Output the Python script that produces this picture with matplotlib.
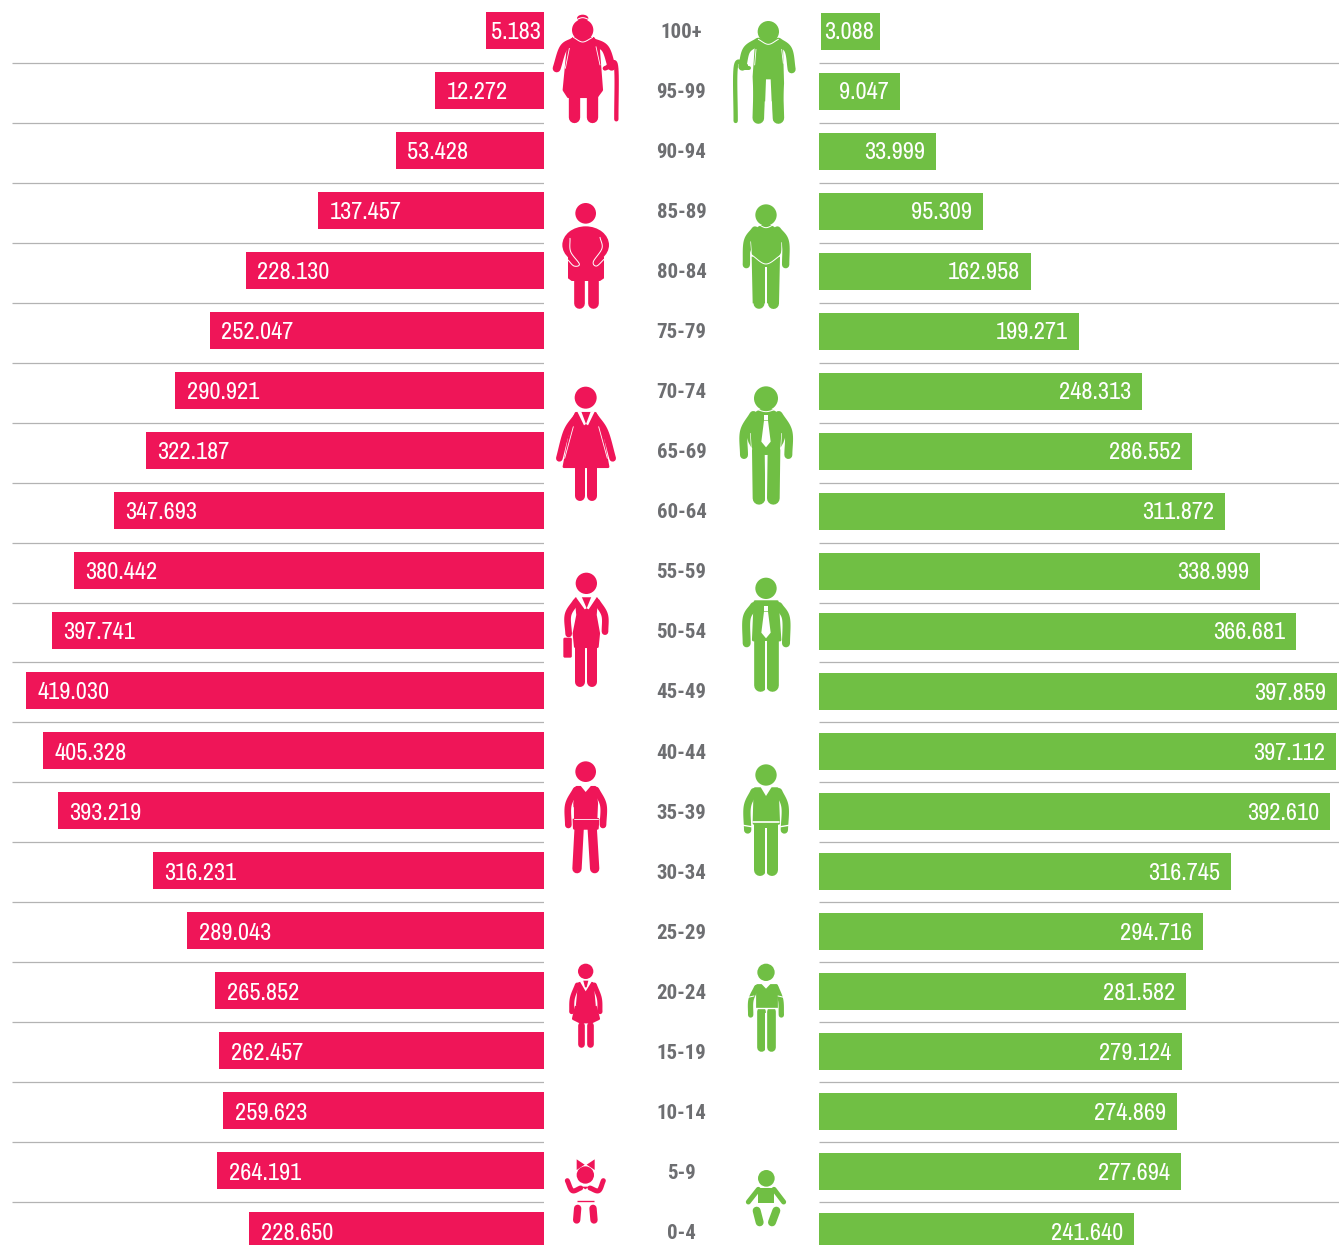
import numpy as np
import matplotlib
matplotlib.use("Agg")
import matplotlib.pyplot as plt
from matplotlib.patches import Circle, Polygon, Ellipse, FancyBboxPatch

W, H = 1339, 1245
PINK, GREEN, GREY, RULE = "#EF1558", "#70BF44", "#6D6E71", "#B3B3B3"
VALUE_FONT = ["Archivo Narrow", "Liberation Sans"]
AGE_FONT = ["Roboto Condensed", "Liberation Sans"]

ages = ["100+", "95-99", "90-94", "85-89", "80-84", "75-79", "70-74", "65-69", "60-64", "55-59", "50-54",
        "45-49", "40-44", "35-39", "30-34", "25-29", "20-24", "15-19", "10-14", "5-9", "0-4"]
female_labels = ["5.183", "12.272", "53.428", "137.457", "228.130", "252.047", "290.921", "322.187", "347.693",
                 "380.442", "397.741", "419.030", "405.328", "393.219", "316.231", "289.043", "265.852",
                 "262.457", "259.623", "264.191", "228.650"]
male_labels = ["3.088", "9.047", "33.999", "95.309", "162.958", "199.271", "248.313", "286.552", "311.872",
               "338.999", "366.681", "397.859", "397.112", "392.610", "316.745", "294.716", "281.582",
               "279.124", "274.869", "277.694", "241.640"]
# The drawn bars of the original are not proportional to their labels, so the lengths are read separately.
female_lengths = [58, 109, 148, 226, 298, 334, 369, 398, 430, 470, 492, 518, 501, 486, 391, 357, 329, 325, 321, 327, 295]
male_lengths = [61, 81, 117, 164, 212, 260, 323, 373, 406, 441, 477, 518, 517, 511, 412, 384, 367, 363, 358, 362, 315]
male_starts = [2] + [0] * 20

fig = plt.figure(figsize=(W / 100, H / 100), dpi=100, facecolor="white")


def px_axes(x0, x1, y_shift=0.0):
    a = fig.add_axes([x0 / W, 0, (x1 - x0) / W, 1])
    a.set_ylim((H - 30.5 - y_shift) / 60, (0 - 30.5 - y_shift) / 60)
    a.axis("off")
    return a


rows = np.arange(len(ages))
rule_rows = rows[:-1] + 0.55 - 0.00175 * rows[:-1]

axL = px_axes(0, 544)
axL.set_xlim(544, 0)
axL.barh(rows, female_lengths, height=37 / 60, color=PINK, linewidth=0)
axL.hlines(rule_rows, 0, 532.5, color=RULE, lw=0.9)

axR = px_axes(819, W, 1.0)
axR.set_xlim(0, W - 819)
axR.barh(rows, np.array(male_lengths) - np.array(male_starts), left=male_starts, height=37 / 60, color=GREEN, linewidth=0)
axR.hlines(rule_rows - 1 / 60, 0, 520, color=RULE, lw=0.9)

for i, (lab, n) in enumerate(zip(female_labels, female_lengths)):
    pad = 5 if i == 0 else 11.5
    axL.text(n - pad, i + 0.03 + 0.001 * i, lab, color="white", family=VALUE_FONT, fontsize=17.5, ha="left", va="center")
for i, (lab, n) in enumerate(zip(male_labels, male_lengths)):
    pad = 6 if i == 0 else 11
    axR.text(n - pad, i + 0.015 + 0.001 * i, lab, color="white", family=VALUE_FONT, fontsize=17.5, ha="right", va="center")

axC = px_axes(544, 819)
axC.set_xlim(544, 819)
for i, a in enumerate(ages):
    axC.text(681.5, i + 0.03 + 0.001 * i, a, color=GREY, family=AGE_FONT, fontsize=15, fontweight="bold", ha="center", va="center")

# Icon layer, pixel coordinates
ov = fig.add_axes([0, 0, 1, 1], zorder=5)
ov.set_xlim(0, W)
ov.set_ylim(H, 0)
ov.axis("off")
ov.patch.set_alpha(0)


class Icon:
    def __init__(self, ox, oy, color):
        self.ox, self.oy, self.c = ox, oy, color

    def p(self, pts):
        a = np.array(pts, float)
        return np.c_[self.ox + a[:, 0] / 3, self.oy + a[:, 1] / 3]

    def smooth(self, pts):
        q = self.p(pts)
        if len(q) < 3:
            return q
        e = np.vstack([2 * q[0] - q[1], q, 2 * q[-1] - q[-2]])
        out = []
        for i in range(1, len(e) - 2):
            for t in np.linspace(0, 1, 12, endpoint=False):
                out.append(0.5 * (2 * e[i] + (e[i + 1] - e[i - 1]) * t
                                  + (2 * e[i - 1] - 5 * e[i] + 4 * e[i + 1] - e[i + 2]) * t ** 2
                                  + (3 * e[i] - e[i - 1] - 3 * e[i + 1] + e[i + 2]) * t ** 3))
        out.append(q[-1])
        return np.array(out)

    def limb(self, pts, w, color=None, cap="round", z=3):
        q = self.smooth(pts)
        ov.plot(q[:, 0], q[:, 1], color=color or self.c, lw=w / 3 * 0.72, solid_capstyle=cap,
                solid_joinstyle="round", zorder=z)

    def line(self, pts, w=3.0, z=5):
        self.limb(pts, w, color="white", cap="round", z=z)

    def head(self, x, y, r):
        c = self.p([(x, y)])[0]
        ov.add_patch(Circle(c, r / 3, fc=self.c, ec="none", zorder=4))

    def poly(self, pts, color=None, z=3):
        ov.add_patch(Polygon(self.p(pts), closed=True, fc=color or self.c, ec="none", zorder=z))

    def blob(self, pts, color=None, z=3):
        q = self.p(pts)
        ov.add_patch(Polygon(q, closed=True, fc=color or self.c, ec=color or self.c, lw=2,
                             joinstyle="round", zorder=z))

    def ell(self, x, y, w, h):
        c = self.p([(x, y)])[0]
        ov.add_patch(Ellipse(c, w / 3, h / 3, fc=self.c, ec="none", zorder=3))

    def tie(self, cx, top):
        self.poly([(cx - 7, top), (cx + 7, top), (cx + 7, top + 15), (cx - 7, top + 15)], "white", 6)
        self.poly([(cx - 6, top + 17), (cx + 6, top + 17), (cx + 14, top + 80), (cx, top + 97), (cx - 14, top + 80)], "white", 6)


# grandmother
g = Icon(480, 0, PINK)
g.ell(308, 55, 34, 22)
g.line([(283, 62), (308, 53), (334, 62)], 3)
g.head(308, 90, 32)
g.line([(280, 112), (308, 126), (338, 112)], 3)
g.blob([(280, 115), (340, 115), (355, 140), (365, 270), (350, 290), (265, 290), (252, 270), (265, 135)])
g.limb([(280, 125), (250, 145), (230, 205)], 24)
g.limb([(335, 125), (375, 145), (395, 200)], 24)
g.limb([(375, 205), (392, 198)], 14)
g.limb([(283, 285), (283, 350)], 34)
g.limb([(335, 285), (335, 350)], 34)
g.limb([(385, 198), (408, 198), (409, 358)], 13)
g.line([(268, 145), (256, 205)], 2.5)
g.line([(348, 140), (360, 195)], 2.5)

# grandfather
m = Icon(480, 0, GREEN)
m.head(865, 95, 32)
m.line([(835, 118), (865, 133), (895, 118)], 3)
m.blob([(835, 120), (895, 120), (905, 145), (908, 250), (905, 300), (825, 300), (822, 230), (828, 145)])
m.limb([(835, 125), (800, 150), (787, 200)], 24)
m.limb([(895, 125), (925, 150), (935, 208)], 24)
m.limb([(838, 260), (835, 354)], 35)
m.limb([(892, 260), (895, 354)], 35)
m.poly([(858, 238), (872, 238), (878, 372), (853, 372)], "white", 4)
m.limb([(798, 197), (768, 197), (767, 363)], 13)
m.limb([(788, 205), (808, 205)], 12)
m.line([(828, 148), (824, 195)], 2.5)
m.line([(905, 148), (910, 190)], 2.5)

# old woman
g = Icon(480, 0, PINK)
g.head(317, 640, 31)
g.ell(317, 735, 140, 112)
g.poly([(264, 770), (372, 770), (372, 835), (360, 843), (275, 843), (264, 835)])
g.limb([(296, 835), (296, 908)], 32)
g.limb([(338, 835), (338, 908)], 32)
g.line([(270, 715), (272, 755), (298, 792), (282, 798), (264, 780)], 3)
g.line([(360, 712), (366, 745), (340, 785), (350, 798), (372, 778)], 3)

# old man
m = Icon(480, 0, GREEN)
m.head(858, 645, 32)
m.line([(828, 668), (858, 683), (890, 668)], 3)
m.ell(858, 732, 100, 118)
m.limb([(825, 690), (802, 725), (799, 794)], 22)
m.limb([(892, 690), (916, 725), (917, 794)], 22)
m.poly([(815, 770), (900, 770), (897, 910), (818, 910)])
m.limb([(836, 790), (837, 910)], 33)
m.limb([(880, 790), (880, 910)], 33)
m.poly([(855, 800), (861, 800), (861, 930), (855, 930)], "white", 4)
m.line([(815, 765), (858, 792), (903, 765)], 3)
m.line([(812, 725), (815, 765)], 2)
m.line([(903, 725), (903, 765)], 2)

# coat woman
g = Icon(540, 370, PINK)
g.head(137, 83, 33)
g.blob([(108, 130), (166, 130), (180, 160), (204, 290), (72, 290), (96, 160)])
g.limb([(110, 140), (80, 185), (58, 265)], 20)
g.limb([(165, 140), (195, 185), (218, 265)], 20)
g.line([(100, 170), (74, 265)], 2.5)
g.line([(176, 170), (202, 265)], 2.5)
g.limb([(120, 290), (120, 378)], 30)
g.limb([(155, 290), (155, 378)], 30)
g.poly([(112, 125), (124, 125), (138, 162), (132, 166)], "white", 5)
g.poly([(164, 125), (152, 125), (138, 162), (144, 166)], "white", 5)

# tie man
m = Icon(540, 370, GREEN)
m.head(678, 85, 36)
m.line([(642, 115), (678, 125), (715, 115)], 3)
m.ell(678, 185, 118, 140)
m.limb([(640, 135), (612, 185), (612, 255)], 24)
m.limb([(716, 135), (745, 185), (745, 255)], 24)
m.line([(631, 190), (634, 235)], 2)
m.line([(725, 190), (722, 235)], 2)
m.limb([(655, 240), (657, 385)], 38)
m.limb([(702, 240), (700, 385)], 38)
m.poly([(676, 255), (680, 255), (680, 410), (676, 410)], "white", 4)
m.tie(678, 135)

# business woman
g = Icon(540, 370, PINK)
g.head(139, 640, 32)
g.blob([(108, 686), (170, 686), (166, 735), (176, 790), (172, 830), (106, 830), (102, 790), (113, 735)])
g.limb([(108, 695), (84, 735), (86, 792)], 20)
g.limb([(170, 695), (194, 735), (195, 785)], 20)
g.limb([(121, 810), (121, 935)], 30)
g.limb([(157, 810), (157, 935)], 30)
ov.add_patch(FancyBboxPatch(g.p([(73, 806)])[0], 6.5, 18, boxstyle="round,pad=1,rounding_size=1.5", fc=PINK, ec="none", zorder=3))
g.poly([(108, 682), (124, 678), (140, 715), (134, 718)], "white", 5)
g.poly([(170, 682), (155, 678), (140, 715), (146, 718)], "white", 5)

# business man
m = Icon(540, 370, GREEN)
m.head(678, 655, 32)
m.blob([(645, 695), (712, 695), (720, 810), (640, 810)])
m.limb([(642, 708), (620, 745), (620, 820)], 24)
m.limb([(716, 708), (738, 745), (738, 820)], 24)
m.limb([(660, 800), (660, 945)], 38)
m.limb([(697, 800), (697, 945)], 38)
m.poly([(676, 812), (681, 812), (681, 965), (676, 965)], "white", 4)
m.tie(678, 708)

# young woman
g = Icon(540, 750, PINK)
g.head(137, 65, 31)
g.blob([(110, 112), (165, 112), (170, 160), (168, 205), (106, 205), (104, 160)])
g.limb([(108, 120), (85, 165), (85, 225)], 20)
g.limb([(168, 120), (190, 165), (189, 225)], 20)
g.blob([(102, 208), (174, 208), (172, 235), (103, 235)])
g.limb([(118, 225), (111, 356)], 28)
g.limb([(156, 225), (164, 356)], 28)
g.poly([(120, 105), (155, 105), (137, 126)], "white", 5)
g.line([(102, 208), (174, 208)], 2.5)
g.line([(100, 170), (100, 205)], 2.5)
g.line([(177, 170), (177, 205)], 2.5)

# young man
m = Icon(540, 750, GREEN)
m.head(678, 75, 32)
m.blob([(645, 116), (712, 116), (716, 220), (642, 220)])
m.limb([(642, 125), (622, 170), (623, 240)], 22)
m.limb([(716, 125), (735, 170), (733, 240)], 22)
m.limb([(660, 225), (660, 360)], 36)
m.limb([(697, 225), (697, 360)], 36)
m.poly([(676, 235), (681, 235), (681, 380), (676, 380)], "white", 4)
m.poly([(660, 108), (697, 108), (678, 138)], "white", 5)
m.line([(640, 216), (716, 216)], 5)
m.line([(610, 226), (634, 230)], 4)
m.line([(722, 230), (746, 226)], 4)

# teen girl
g = Icon(540, 750, PINK)
g.head(137, 664, 23)
g.blob([(118, 700), (157, 700), (163, 765), (112, 765)])
g.limb([(112, 705), (97, 745), (95, 785)], 15)
g.limb([(163, 705), (178, 745), (180, 785)], 15)
g.blob([(108, 771), (167, 771), (176, 806), (155, 816), (120, 816), (100, 806)])
g.limb([(124, 825), (124, 882)], 20)
g.limb([(150, 825), (150, 882)], 20)
g.poly([(120, 695), (155, 695), (137, 724)], "white", 5)
g.poly([(130, 692), (145, 692), (140, 712), (135, 712)], PINK, 6)

# teen boy
m = Icon(540, 750, GREEN)
m.head(678, 667, 26)
m.blob([(650, 706), (708, 706), (708, 772), (650, 772)])
m.limb([(650, 712), (633, 750), (632, 795)], 16)
m.limb([(708, 712), (722, 750), (724, 795)], 16)
m.limb([(662, 782), (662, 890)], 26)
m.limb([(694, 782), (694, 890)], 26)
m.poly([(676, 790), (680, 790), (680, 910), (676, 910)], "white", 4)
m.poly([(660, 697), (696, 697), (678, 716)], "white", 5)
m.line([(648, 774), (710, 774)], 4)
m.line([(624, 742), (642, 738)], 3)
m.line([(714, 738), (732, 742)], 3)

# baby girl
g = Icon(540, 1140, PINK)
g.poly([(110, 58), (134, 74), (110, 90)])
g.poly([(164, 58), (140, 74), (164, 90)])
g.head(136, 105, 26)
g.limb([(82, 122), (97, 152), (122, 144)], 15)
g.limb([(190, 122), (176, 152), (150, 144)], 15)
g.poly([(124, 140), (148, 140), (136, 148)])
g.limb([(112, 182), (161, 182)], 4, cap="butt")
g.limb([(113, 205), (110, 240)], 22)
g.limb([(159, 205), (162, 240)], 22)

# baby boy
m = Icon(540, 1140, GREEN)
m.head(679, 115, 25)
m.poly([(655, 144), (702, 144), (702, 190), (655, 190)])
m.limb([(655, 148), (625, 186)], 15)
m.limb([(702, 148), (731, 186)], 15)
m.limb([(650, 212), (659, 247)], 24)
m.limb([(709, 212), (696, 247)], 24)

fig.savefig("out.png", dpi=100, facecolor="white")
